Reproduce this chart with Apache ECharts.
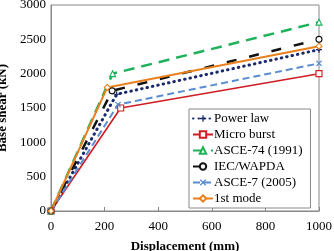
<!DOCTYPE html>
<html>
<head>
<meta charset="utf-8">
<script src="https://cdn.jsdelivr.net/npm/echarts@6/dist/echarts.min.js"></script>
<style>
  html, body { margin: 0; padding: 0; background: #fff; }
  #chart { width: 334px; height: 251px; }
</style>
</head>
<body>
<div id="chart"></div>
<script>
// displacement (mm) and base shear (kN) for each load case
var seriesNames = ['Power law', 'Micro burst', 'ASCE-74 (1991)', 'IEC/WAPDA', 'ASCE-7 (2005)', '1st mode'];
var powerLawX = [0, 245, 1000];
var powerLawY = [0, 1700, 2350];
var microBurstX = [0, 260, 1000];
var microBurstY = [0, 1500, 2000];
var asce74X = [0, 230, 1000];
var asce74Y = [0, 2000, 2750];
var iecX = [0, 228, 1000];
var iecY = [0, 1750, 2500];
var asce7X = [0, 250, 1000];
var asce7Y = [0, 1550, 2150];
var firstModeX = [0, 210, 1000];
var firstModeY = [0, 1800, 2400];
var xTicks = [0, 200, 400, 600, 800, 1000];
var yTicks = [0, 500, 1000, 1500, 2000, 2500, 3000];

var font = 'Liberation Serif';
var plusPath = 'path://M4,0H6V4H10V6H6V10H4V6H0V4H4Z';
var crossPath = 'path://M1.4,0L5,3.6L8.6,0L10,1.4L6.4,5L10,8.6L8.6,10L5,6.4L1.4,10L0,8.6L3.6,5L0,1.4Z';

function pts(xs, ys) {
    return xs.map(function (x, i) { return [x, ys[i]]; });
}

function mkSeries(name, xs, ys, color, lineType, width, symbol, hollow, cap) {
    return {
        name: name,
        type: 'line',
        data: pts(xs, ys),
        symbol: symbol,
        symbolSize: 6,
        showSymbol: true,
        lineStyle: { color: color, width: width, type: lineType, cap: cap || 'butt' },
        itemStyle: hollow
            ? { color: '#fff', borderColor: color, borderWidth: 1.1 }
            : { color: color, borderWidth: 0 },
        z: 2
    };
}

var chart = echarts.init(document.getElementById('chart'));
chart.setOption({
    animation: false,
    backgroundColor: '#fff',
    grid: {
        left: 51, right: 15, top: 5, bottom: 40,
        outerBoundsMode: 'none', containLabel: false,
        show: true, borderColor: '#888', borderWidth: 1
    },
    xAxis: {
        type: 'value',
        min: xTicks[0],
        max: xTicks[xTicks.length - 1],
        interval: 200,
        name: 'Displacement (mm)',
        nameLocation: 'middle',
        nameGap: 29,
        nameTextStyle: { fontFamily: font, fontWeight: 'bold', fontSize: 13, color: '#000' },
        axisLine: { lineStyle: { color: '#888' } },
        axisTick: { inside: true, length: 4, lineStyle: { color: '#888' } },
        axisLabel: { fontFamily: font, fontSize: 13, color: '#000', margin: 9, formatter: function (v) { return String(v); } },
        splitLine: { show: false }
    },
    yAxis: {
        type: 'value',
        min: yTicks[0],
        max: yTicks[yTicks.length - 1],
        interval: 500,
        name: 'Base shear (kN)',
        nameLocation: 'middle',
        nameGap: 42,
        nameTextStyle: { fontFamily: font, fontWeight: 'bold', fontSize: 13, color: '#000' },
        axisLine: { show: true, lineStyle: { color: '#888' } },
        axisTick: { show: false },
        axisLabel: { fontFamily: font, fontSize: 13, color: '#000', margin: 5, formatter: function (v) { return String(v); } },
        splitLine: { show: false }
    },
    legend: {
        orient: 'vertical',
        left: 189,
        top: 109,
        width: 119,
        padding: [3, 8, 3, 3],
        itemGap: 3,
        itemWidth: 20,
        itemHeight: 8,
        borderColor: '#888',
        borderWidth: 1,
        backgroundColor: '#fff',
        textStyle: { fontFamily: font, fontSize: 13, color: '#000', padding: [0, 0, 0, -4] },
        data: seriesNames
    },
    series: [
        mkSeries(seriesNames[0], powerLawX, powerLawY, '#1b2a6b', [0.5, 5], 3, plusPath, false, 'round'),
        mkSeries(seriesNames[1], microBurstX, microBurstY, '#d01c22', 'solid', 1.6, 'rect', true),
        mkSeries(seriesNames[2], asce74X, asce74Y, '#1fb25a', [11, 7], 2.5, 'triangle', true),
        mkSeries(seriesNames[3], iecX, iecY, '#111', [10, 13], 2.5, 'circle', true),
        mkSeries(seriesNames[4], asce7X, asce7Y, '#5b8cd0', [7, 4], 2, crossPath, false),
        mkSeries(seriesNames[5], firstModeX, firstModeY, '#e8801e', 'solid', 2, 'diamond', true)
    ]
});
</script>
</body>
</html>
